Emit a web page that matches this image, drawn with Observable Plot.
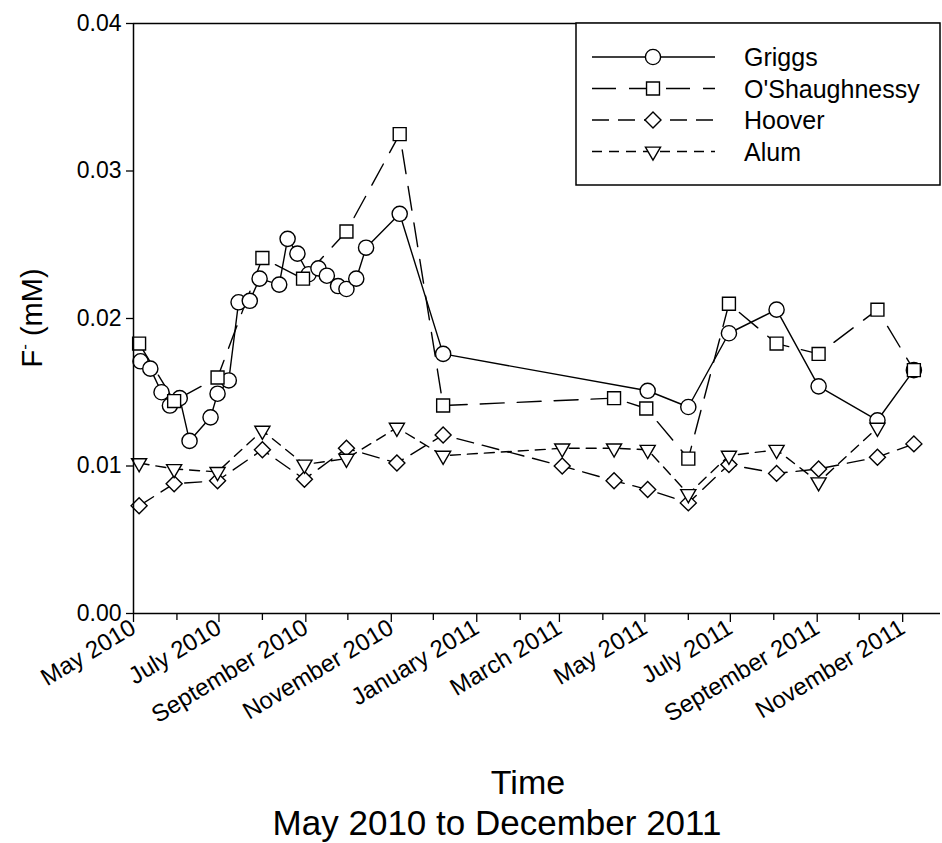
<!DOCTYPE html>
<html><head><meta charset="utf-8">
<script src="https://cdn.jsdelivr.net/npm/d3@7"></script>
<script src="https://cdn.jsdelivr.net/npm/@observablehq/plot@0.6"></script>
<style>body{margin:0;background:#fff} svg{display:block}</style>
</head><body><div id="chart"></div>
<script>
const FONT = "'Liberation Sans', Arial, Helvetica, sans-serif";

const griggsDates = ["2010-05-06","2010-05-13","2010-05-21","2010-05-27","2010-06-03","2010-06-10","2010-06-25","2010-06-30","2010-07-08","2010-07-15","2010-07-23","2010-07-30","2010-08-13","2010-08-19","2010-08-26","2010-09-03","2010-09-10","2010-09-16","2010-09-24","2010-09-30","2010-10-07","2010-10-14","2010-11-07","2010-12-08","2011-05-03","2011-06-01","2011-06-30","2011-08-03","2011-09-02","2011-10-14","2011-11-09"];
const griggsValues = [0.0171,0.0166,0.0150,0.0141,0.0146,0.0117,0.0133,0.0149,0.0158,0.0211,0.0212,0.0227,0.0223,0.0254,0.0244,0.0230,0.0234,0.0229,0.0222,0.0220,0.0227,0.0248,0.0271,0.0176,0.0151,0.0140,0.0190,0.0206,0.0154,0.0131,0.0165];

const oshDates = ["2010-05-05","2010-05-30","2010-06-30","2010-08-01","2010-08-30","2010-09-30","2010-11-07","2010-12-08","2011-04-09","2011-05-02","2011-06-01","2011-06-30","2011-08-03","2011-09-02","2011-10-14","2011-11-09"];
const oshValues = [0.0183,0.0144,0.0160,0.0241,0.0227,0.0259,0.0325,0.0141,0.0146,0.0139,0.0105,0.0210,0.0183,0.0176,0.0206,0.0165];

const hooverDates = ["2010-05-05","2010-05-30","2010-06-30","2010-08-01","2010-08-31","2010-09-30","2010-11-05","2010-12-08","2011-03-03","2011-04-09","2011-05-03","2011-06-01","2011-06-30","2011-08-03","2011-09-02","2011-10-14","2011-11-09"];
const hooverValues = [0.0073,0.0088,0.0090,0.0111,0.0091,0.0112,0.0102,0.0121,0.0100,0.0090,0.0084,0.0075,0.0101,0.0095,0.0098,0.0106,0.0115];

const alumDates = ["2010-05-05","2010-05-30","2010-06-30","2010-08-01","2010-08-31","2010-09-30","2010-11-05","2010-12-08","2011-03-03","2011-04-09","2011-05-03","2011-06-01","2011-06-30","2011-08-03","2011-09-02","2011-10-14"];
const alumValues = [0.0102,0.0098,0.0096,0.0124,0.0101,0.0105,0.0126,0.0107,0.0112,0.0112,0.0111,0.0081,0.0107,0.0111,0.0089,0.0126];

const seriesNames = ["Griggs","O'Shaughnessy","Hoover","Alum"];
const yTicks = [0, 0.01, 0.02, 0.03, 0.04];
const majorTicks = ["2010-05-01","2010-07-01","2010-09-01","2010-11-01","2011-01-01","2011-03-01","2011-05-01","2011-07-01","2011-09-01","2011-11-01"];
const minorTicks = ["2010-06-01","2010-08-01","2010-10-01","2010-12-01","2011-02-01","2011-04-01","2011-06-01","2011-08-01","2011-10-01"];
const xDomain = ["2010-05-01","2011-11-28"];
const xTitle = "Time";
const xSubtitle = "May 2010 to December 2011";

const styles = {
  "Griggs": {symbol: "circle", r: 7.6, dash: null, rotate: 0},
  "O'Shaughnessy": {symbol: "square", r: 7.3, dash: "24,13", rotate: 0},
  "Hoover": {symbol: "diamond2", r: 7.2, dash: "17,9", rotate: 0},
  "Alum": {symbol: "triangle2", r: 7.2, dash: "10,7", rotate: 180}
};
const raw = [[griggsDates, griggsValues],[oshDates, oshValues],[hooverDates, hooverValues],[alumDates, alumValues]];
const parse = s => new Date(s + "T00:00:00Z");
const rows = seriesNames.map((name, k) => raw[k][0].map((d, i) => ({series: name, date: parse(d), value: raw[k][1][i]})));

const W = 942, H = 843;
const marks = [];
rows.forEach((data, k) => {
  const st = styles[seriesNames[k]];
  marks.push(Plot.line(data, {x: "date", y: "value", stroke: "black", strokeWidth: 1.4, strokeDasharray: st.dash}));
});
rows.forEach((data, k) => {
  const st = styles[seriesNames[k]];
  marks.push(Plot.dot(data, {x: "date", y: "value", symbol: () => st.symbol, r: st.r, fill: "white", stroke: "black", strokeWidth: 1.4, rotate: st.rotate}));
});
marks.push(
  Plot.ruleY([0], {stroke: "black", strokeWidth: 1.5}),
  Plot.ruleY([0.04], {stroke: "black", strokeWidth: 1.5}),
  Plot.ruleX([parse(xDomain[0])], {stroke: "black", strokeWidth: 1.5}),
  Plot.axisY(yTicks, {tickSize: 7, tickPadding: 5, tickFormat: d3.format(".2f"), fontSize: 23, label: null, stroke: "black", strokeWidth: 1.3}),
  Plot.axisX(minorTicks.map(parse), {tickSize: 7, tickFormat: () => "", label: null, strokeWidth: 1.3}),
  Plot.axisX(majorTicks.map(parse), {tickSize: 9, tickPadding: 3, tickRotate: -31, tickFormat: d3.utcFormat("%B %Y"), fontSize: 24, label: null, strokeWidth: 1.3})
);

const chart = Plot.plot({
  width: W, height: H,
  marginLeft: 133, marginRight: 2, marginTop: 23, marginBottom: H - 613,
  style: {fontFamily: FONT, color: "black", background: "white", overflow: "visible"},
  x: {type: "utc", domain: xDomain.map(parse)},
  y: {domain: [0, 0.04]},
  marks
});

const svg = d3.select(chart);
// axis titles
const yt = svg.append("text").attr("transform", "translate(42,318) rotate(-90)")
  .attr("text-anchor", "middle").attr("font-family", FONT).attr("font-size", 29).attr("fill", "black");
yt.append("tspan").text("F");
yt.append("tspan").attr("dy", -12).attr("font-size", 17).text("-");
yt.append("tspan").attr("dy", 12).text(" (mM)");
svg.append("text").attr("x", 528).attr("y", 794).attr("text-anchor", "middle")
  .attr("font-family", FONT).attr("font-size", 34).attr("fill", "black").text(xTitle);
svg.append("text").attr("x", 497).attr("y", 835).attr("text-anchor", "middle")
  .attr("font-family", FONT).attr("font-size", 35).attr("fill", "black").text(xSubtitle);

// legend
const lg = svg.append("g").attr("text-anchor", "start");
lg.append("rect").attr("x", 576).attr("y", 23).attr("width", 364).attr("height", 162)
  .attr("fill", "white").attr("stroke", "black").attr("stroke-width", 1.5);
const rowY = [57, 88.5, 120, 151.5];
const symMap = {circle: d3.symbolCircle, square: d3.symbolSquare, diamond2: d3.symbolDiamond2, triangle2: d3.symbolTriangle2};
seriesNames.forEach((name, k) => {
  const st = styles[name];
  const y = rowY[k];
  lg.append("line").attr("x1", 592).attr("x2", 715).attr("y1", y).attr("y2", y)
    .attr("stroke", "black").attr("stroke-width", 1.4).attr("stroke-dasharray", st.dash);
  lg.append("path").attr("d", d3.symbol(symMap[st.symbol], Math.PI * st.r * st.r)())
    .attr("transform", `translate(653,${y}) rotate(${st.rotate})`)
    .attr("fill", "white").attr("stroke", "black").attr("stroke-width", 1.4);
  lg.append("text").attr("x", 744).attr("y", y).attr("dy", "0.36em").attr("text-anchor", "start")
    .attr("font-family", FONT).attr("font-size", 25).attr("fill", "black").text(name);
});

document.getElementById("chart").appendChild(chart);
</script>
</body></html>
